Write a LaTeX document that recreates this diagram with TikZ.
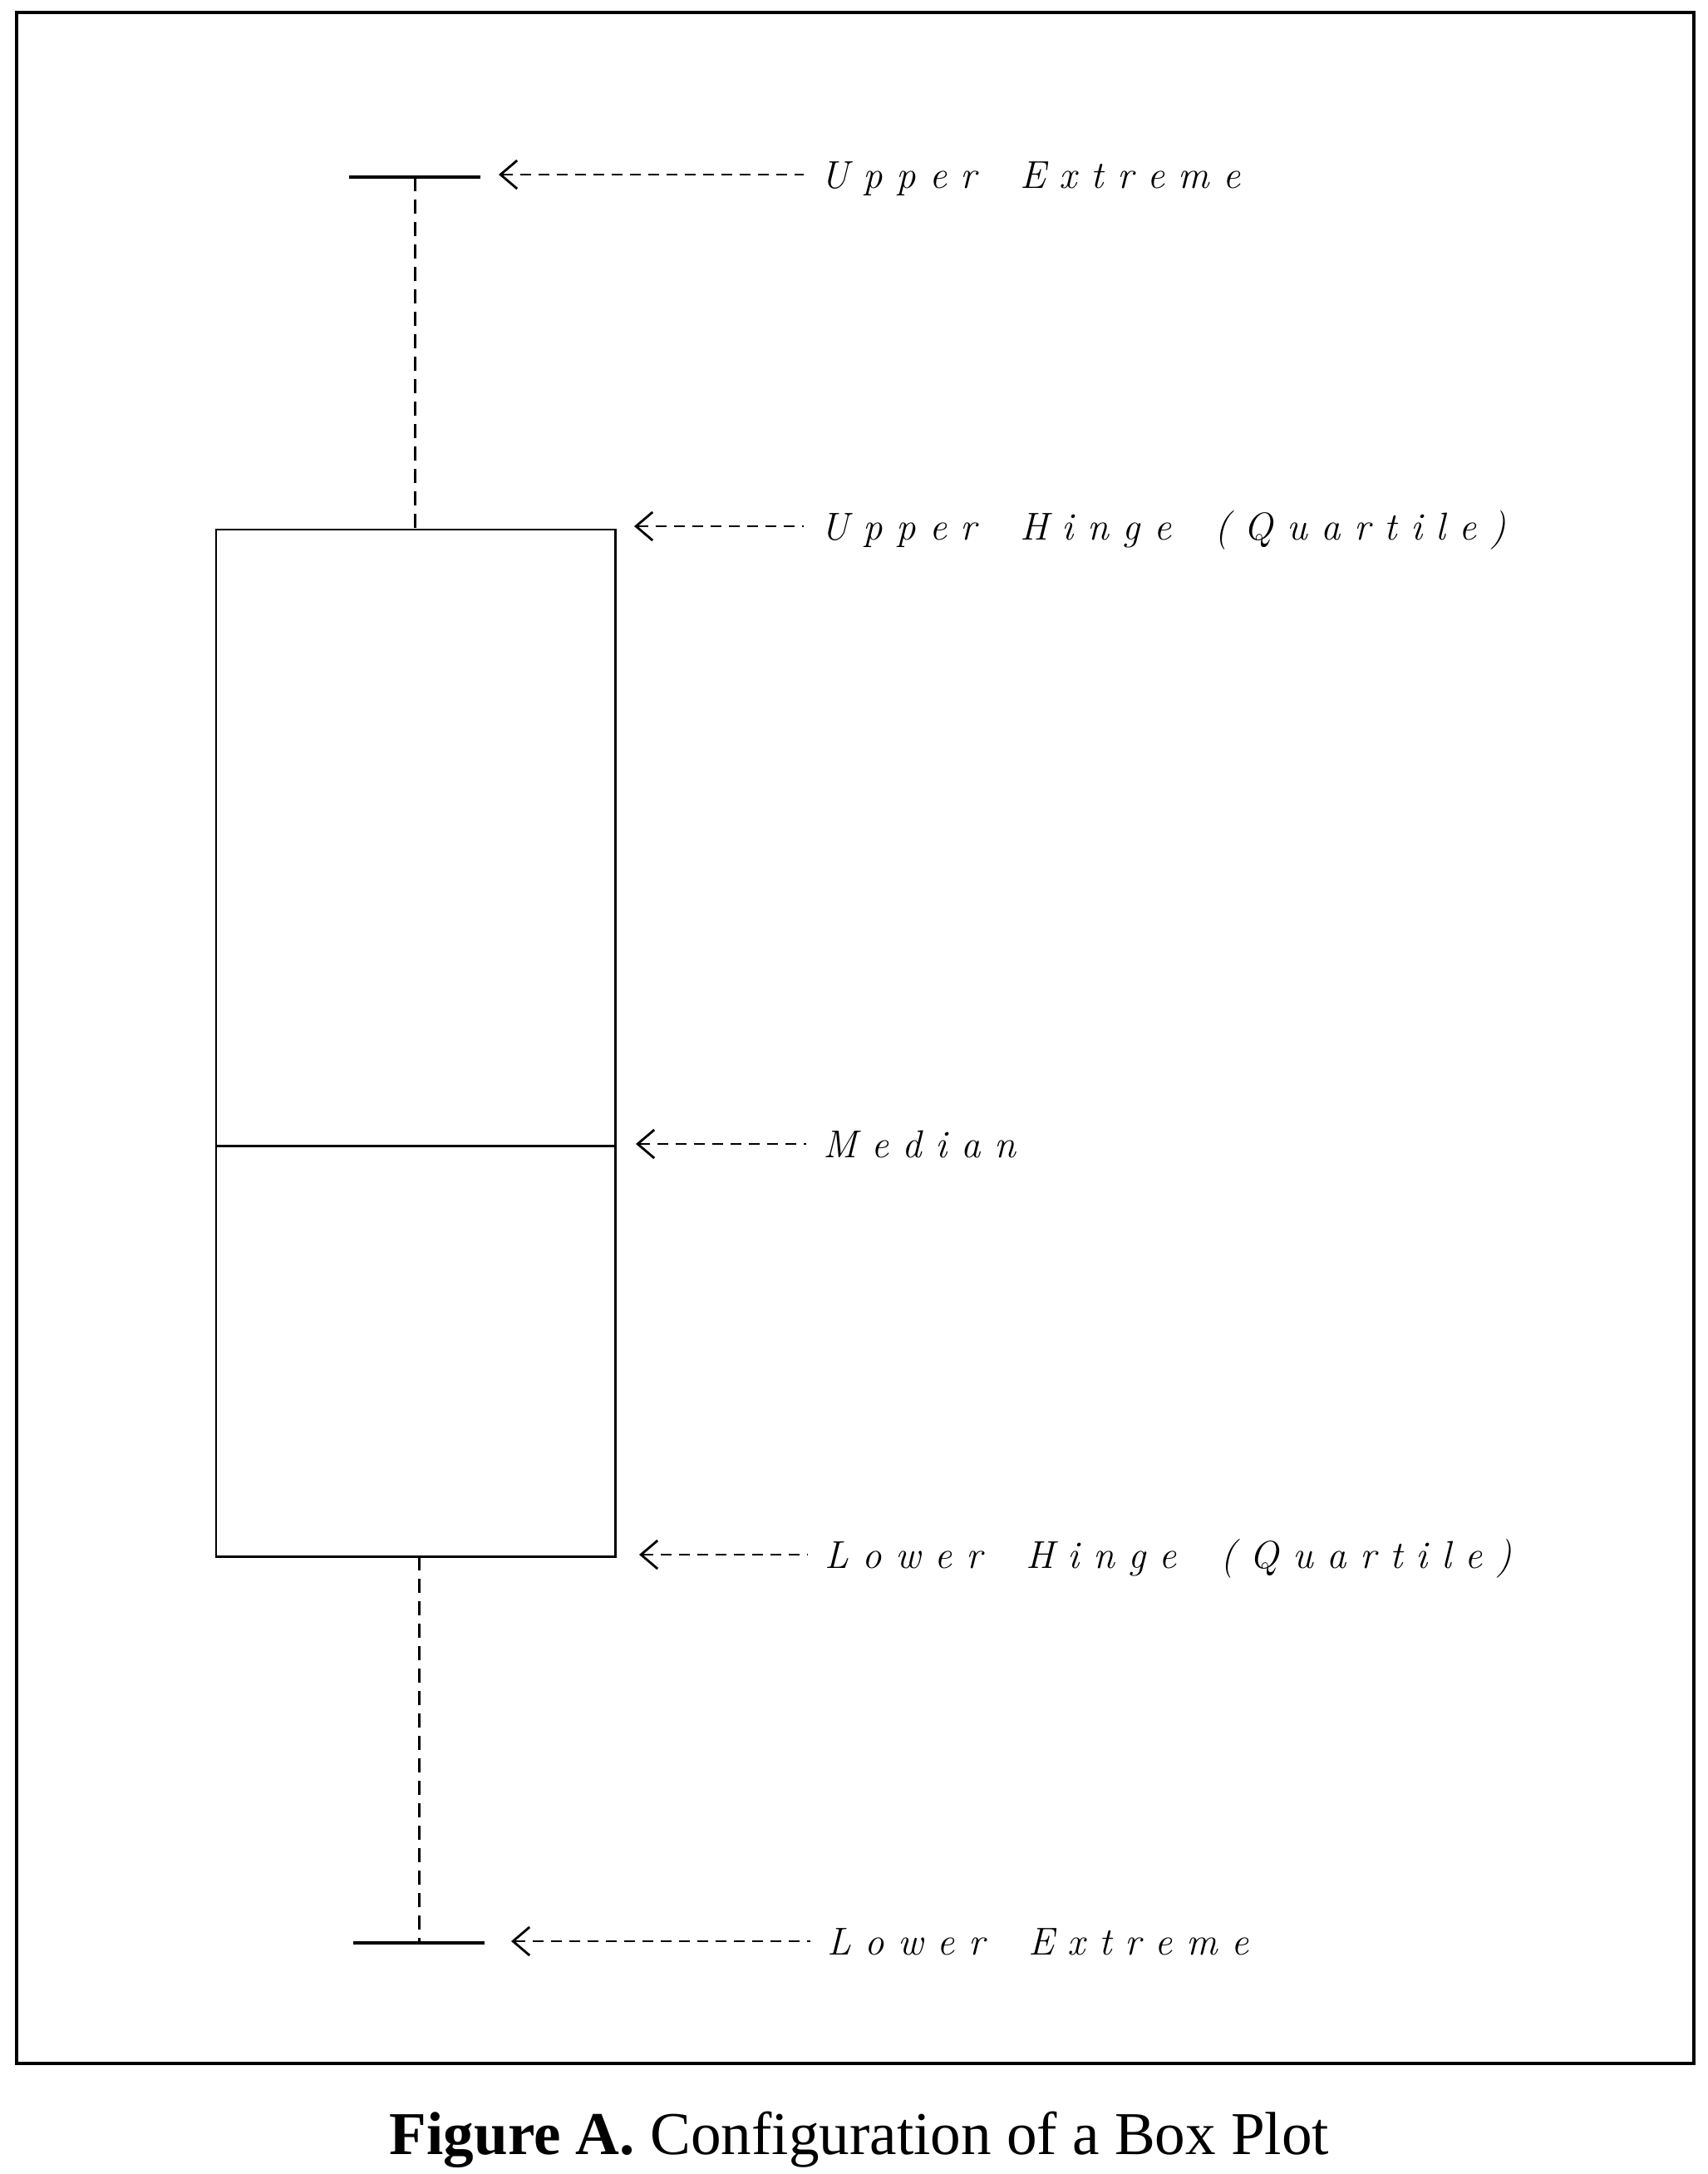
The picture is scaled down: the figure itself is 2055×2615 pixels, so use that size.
\documentclass[tikz,border=0pt]{standalone}
\usepackage{fontspec}
\usetikzlibrary{arrows.meta}
\newfontfamily\capfont{Liberation Serif}
\newcommand{\tagfont}{\fontsize{13.3}{13.3}\selectfont\itshape}
\ExplSyntaxOn
\NewDocumentCommand{\spacedtext}{m}{\str_map_inline:nn {#1}
    {\str_if_eq:nnTF {##1} {~} {\hspace{5.5pt}} {##1}\kern 4.7pt}\unkern}
\ExplSyntaxOff

\tikzset{
    frameline/.style={line width=1.4pt},
    plotline/.style={line width=0.85pt},
    capline/.style={line width=1.3pt},
    whisker/.style={line width=0.85pt, dash pattern=on 0.17cm off 0.1cm},
    pointer/.style={line width=0.8pt, dash pattern=on 0.13cm off 0.09cm,
        {Straight Barb[length=0.2cm,width=0.34cm]}-},
    tag/.style={anchor=west, font=\tagfont, inner xsep=0.2cm, inner ysep=0pt,
        text height=9.1pt, text depth=0pt},
    figtitle/.style={font=\capfont\fontsize{20.8}{20.8}\selectfont, inner sep=0pt}
}

\begin{document}
\begin{tikzpicture}[x=0.01cm, y=-0.01cm]
    \useasboundingbox (0,0) rectangle (2055,2615);
    \draw[frameline] (20,15) rectangle (2038,2482);

    \coordinate (ucapl) at (420,213);
    \coordinate (ucapr) at (578,213);
    \coordinate (lcapl) at (425,2337);
    \coordinate (lcapr) at (583,2337);
    \coordinate (boxtl) at (260,637);
    \coordinate (boxbr) at (740,1872);
    \coordinate (medl) at (260,1378);
    \coordinate (medr) at (740,1378);

    \draw[plotline] (boxtl) rectangle (boxbr);
    \draw[plotline] (medl) -- (medr);
    \draw[capline] (ucapl) -- (ucapr);
    \draw[capline] (lcapl) -- (lcapr);
    \draw[whisker] (499,213) -- (499,637);
    \draw[whisker] (504,1872) -- (504,2337);

    \node[tag] (ue) at (967,210) {\spacedtext{Upper Extreme}};
    \node[tag] (uh) at (967,633) {\spacedtext{Upper Hinge (Quartile)}};
    \node[tag] (md) at (970,1376) {\spacedtext{Median}};
    \node[tag] (lh) at (972,1870) {\spacedtext{Lower Hinge (Quartile)}};
    \node[tag] (le) at (975,2335) {\spacedtext{Lower Extreme}};

    \coordinate (uetip) at (600,210);
    \coordinate (uhtip) at (763,633);
    \coordinate (mdtip) at (765,1376);
    \coordinate (lhtip) at (769,1870);
    \coordinate (letip) at (615,2335);

    \draw[pointer] (uetip) -- (ue.west);
    \draw[pointer] (uhtip) -- (uh.west);
    \draw[pointer] (mdtip) -- (md.west);
    \draw[pointer] (lhtip) -- (lh.west);
    \draw[pointer] (letip) -- (le.west);

    \node[figtitle] (ttl) at (1034,2574) {\textbf{Figure A.} Configuration of a Box Plot};
\end{tikzpicture}
\end{document}
